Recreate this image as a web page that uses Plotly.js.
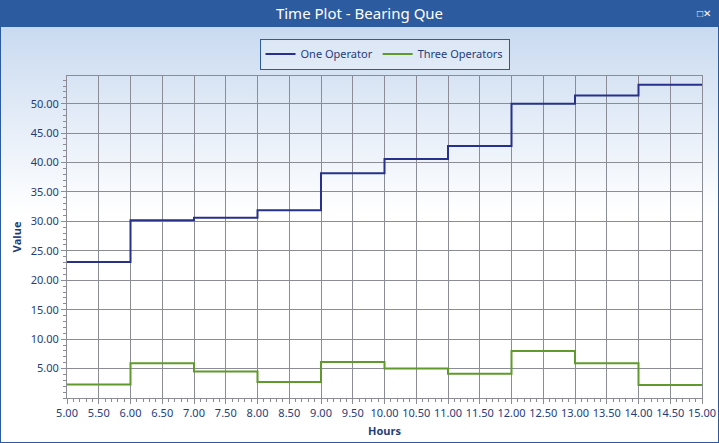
<!DOCTYPE html>
<html>
<head>
<script src="https://cdn.plot.ly/plotly-3.0.1.min.js"></script>
<style>
body{margin:0;width:719px;height:443px;overflow:hidden;font-family:"Noto Sans",sans-serif}
#bar{height:27px;background:#2d5b9f;color:#fff;font-size:15px;line-height:27px;text-align:center;position:relative}
#bar span{position:absolute;right:8px;top:0;font-size:10px}
#wrap{height:416px;background:linear-gradient(#c9daf0,#ffffff 45%);border:1px solid #2d5b9f;border-top:none;box-sizing:border-box}
</style>
</head>
<body>
<div id="bar">Time Plot - Bearing Que<span>&#9633;&#10005;</span></div>
<div id="wrap"><div id="chart" style="width:717px;height:415px"></div></div>
<script>
// hours at which each step starts, plus the final end point
var hours = [5, 6, 7, 8, 9, 10, 11, 12, 13, 14, 15];
var oneOperator = [23.1, 30.2, 30.6, 31.9, 38.2, 40.6, 42.8, 50.0, 51.4, 53.2, 53.2];
var threeOperators = [2.3, 5.9, 4.5, 2.7, 6.1, 5.0, 4.1, 8.0, 5.9, 2.2, 2.2];

var data = [
    {x: hours, y: oneOperator, name: 'One Operator', mode: 'lines',
     line: {shape: 'hv', color: '#27308a', width: 2}},
    {x: hours, y: threeOperators, name: 'Three Operators', mode: 'lines',
     line: {shape: 'hv', color: '#5f9a2a', width: 2}}
];

var tickFont = {family: 'Noto Sans, sans-serif', size: 11, color: '#1f3d7a'};
var layout = {
    width: 717, height: 415,
    margin: {l: 66, r: 16, t: 46, b: 44},
    paper_bgcolor: 'rgba(0,0,0,0)',
    plot_bgcolor: 'rgba(0,0,0,0)',
    showlegend: true,
    legend: {orientation: 'h', x: 0.5, xanchor: 'center', y: 1.02, yanchor: 'bottom',
             bordercolor: '#2d5b9f', borderwidth: 1, bgcolor: 'rgba(255,255,255,0.3)',
             font: {family: 'Noto Sans, sans-serif', size: 11, color: '#1f3d7a'}},
    xaxis: {range: [5, 15], dtick: 0.5, tickformat: '.2f', tickfont: tickFont,
            gridcolor: '#8c8c96', linecolor: '#8c8c96', showline: true, mirror: true,
            ticks: 'outside', ticklen: 5, tickcolor: '#8c8c96', zeroline: false,
            minor: {dtick: 0.1, ticks: 'outside', ticklen: 3, tickcolor: '#8c8c96'},
            title: {text: '<b>Hours</b>', font: {size: 11, color: '#1f3d7a'}, standoff: 8}},
    yaxis: {range: [0, 54.7], tickformat: '.2f', tickfont: tickFont,
            gridcolor: '#8c8c96', linecolor: '#8c8c96', showline: true, mirror: true,
            ticks: 'outside', ticklen: 5, tickcolor: '#8c8c96', zeroline: false,
            tickvals: [5,10,15,20,25,30,35,40,45,50],
            minor: {dtick: 1, ticks: 'outside', ticklen: 3, tickcolor: '#8c8c96'},
            title: {text: '<b>Value</b>', font: {size: 11, color: '#1f3d7a'}, standoff: 6}}
};

Plotly.newPlot('chart', data, layout, {displayModeBar: false});
</script>
</body>
</html>
